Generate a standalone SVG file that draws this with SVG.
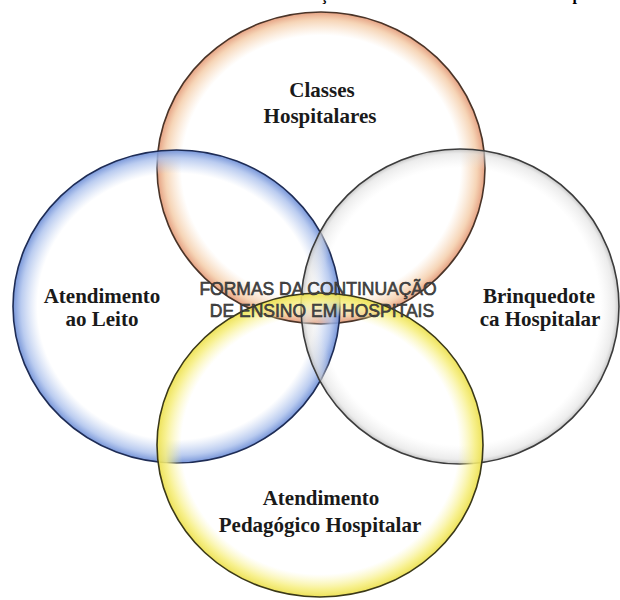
<svg xmlns="http://www.w3.org/2000/svg" width="620" height="600" viewBox="0 0 620 600">
  <defs>
    <radialGradient id="gOrange" cx="0.5" cy="0.5" r="0.5">
      <stop offset="0" stop-color="#ffffff" stop-opacity="0"/>
      <stop offset="0.85" stop-color="#f6d2ad" stop-opacity="0"/>
      <stop offset="0.95" stop-color="#f3c79f" stop-opacity="0.75"/>
      <stop offset="1" stop-color="#e39a7a" stop-opacity="0.95"/>
    </radialGradient>
    <radialGradient id="gBlue" cx="0.5" cy="0.5" r="0.5">
      <stop offset="0" stop-color="#ffffff" stop-opacity="0"/>
      <stop offset="0.85" stop-color="#b8caee" stop-opacity="0"/>
      <stop offset="0.95" stop-color="#a9bfec" stop-opacity="0.8"/>
      <stop offset="1" stop-color="#6f8fd6" stop-opacity="0.95"/>
    </radialGradient>
    <radialGradient id="gGray" cx="0.5" cy="0.5" r="0.5">
      <stop offset="0" stop-color="#ffffff" stop-opacity="0"/>
      <stop offset="0.88" stop-color="#e6e6e6" stop-opacity="0"/>
      <stop offset="0.97" stop-color="#dcdcdc" stop-opacity="0.55"/>
      <stop offset="1" stop-color="#b8b8b8" stop-opacity="0.85"/>
    </radialGradient>
    <radialGradient id="gYellow" cx="0.5" cy="0.5" r="0.5">
      <stop offset="0" stop-color="#ffffff" stop-opacity="0"/>
      <stop offset="0.85" stop-color="#faf4a0" stop-opacity="0"/>
      <stop offset="0.95" stop-color="#f6ee7c" stop-opacity="0.85"/>
      <stop offset="1" stop-color="#ece050" stop-opacity="0.95"/>
    </radialGradient>
  </defs>
  <style>
    .ring { stroke-width: 1.6; }
    .lbl { font-family: "Liberation Serif", "Times New Roman", serif; font-weight: bold; font-size: 21px; fill: #1a1a1a; text-anchor: middle; }
    .center { font-family: "Liberation Sans", Arial, sans-serif; font-size: 17.5px; fill: #4a4a4a; stroke: #2a2a2a; stroke-width: 0.55; text-anchor: middle; }
    .cap { font-family: "Liberation Serif", "Times New Roman", serif; font-weight: bold; font-size: 16px; fill: #000000; text-anchor: middle; }
  </style>
  <rect x="0" y="0" width="620" height="600" fill="#ffffff"/>

  <g id="caption-fragment">
    <text class="cap" x="324" y="0">ç</text>
    <text class="cap" x="577" y="0">p</text>
  </g>

  <g id="classes-hospitalares">
    <ellipse class="ring" cx="321" cy="168" rx="164" ry="156" fill="url(#gOrange)" stroke="#4a3428"/>
    <text class="lbl" x="322" y="97">Classes</text>
    <text class="lbl" x="320" y="123">Hospitalares</text>
  </g>

  <g id="atendimento-leito">
    <ellipse class="ring" cx="176.5" cy="306.5" rx="163.5" ry="156.5" fill="url(#gBlue)" stroke="#1e2c55"/>
    <text class="lbl" x="102" y="303">Atendimento</text>
    <text class="lbl" x="102" y="326">ao Leito</text>
  </g>

  <g id="brinquedoteca">
    <ellipse class="ring" cx="460" cy="306.5" rx="159" ry="157.5" fill="url(#gGray)" stroke="#3c3c3c"/>
    <text class="lbl" x="539" y="303">Brinquedote</text>
    <text class="lbl" x="540" y="326">ca Hospitalar</text>
  </g>

  <g id="atendimento-pedagogico">
    <ellipse class="ring" cx="320" cy="445" rx="163" ry="152" fill="url(#gYellow)" stroke="#3a3818"/>
    <text class="lbl" x="321" y="505">Atendimento</text>
    <text class="lbl" x="320" y="532">Pedagógico Hospitalar</text>
  </g>

  <g id="formas-centro">
    <text class="center" x="318" y="295">FORMAS DA CONTINUAÇÃO</text>
    <text class="center" x="322" y="317">DE ENSINO EM HOSPITAIS</text>
  </g>

  <g id="connectors"/>
</svg>
